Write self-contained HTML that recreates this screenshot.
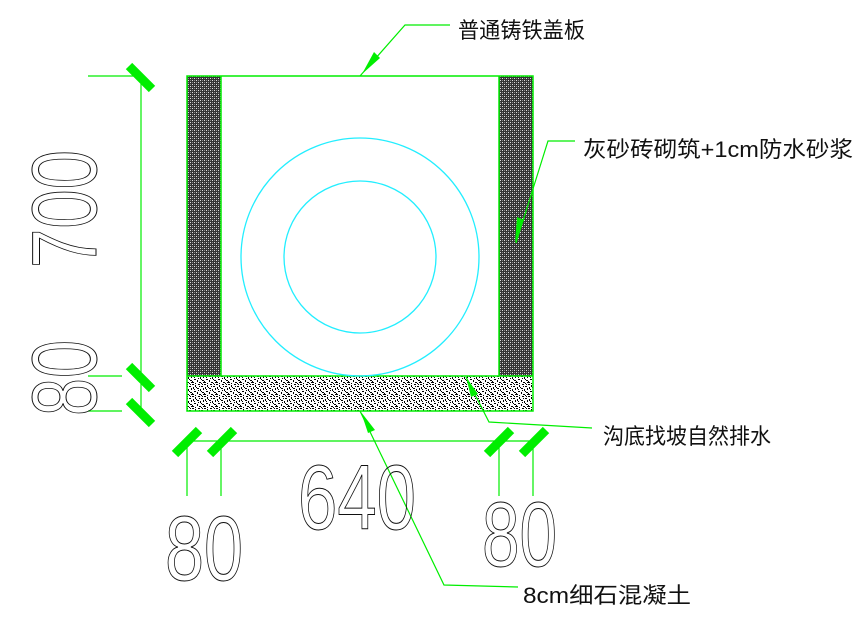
<!DOCTYPE html>
<html><head><meta charset="utf-8"><style>
html,body{margin:0;padding:0;background:#fff;}
svg{display:block;}
.cj{font-family:"Liberation Sans","Noto Sans CJK SC",sans-serif;font-size:22px;fill:#111;}
.dg{font-family:"Liberation Sans",sans-serif;fill:none;stroke:#111;stroke-width:1;}
</style></head><body>
<svg width="862" height="624" viewBox="0 0 862 624" xmlns="http://www.w3.org/2000/svg">
<defs>
<pattern id="brick" width="4" height="4" patternUnits="userSpaceOnUse">
<rect width="4" height="4" fill="#333"/>
<rect x="0" y="0" width="1" height="1" fill="#ddd"/>
<rect x="2" y="2" width="1" height="1" fill="#ddd"/>
<rect x="2" y="0" width="1" height="1" fill="#888"/>
<rect x="0" y="2" width="1" height="1" fill="#888"/>
</pattern>
<pattern id="conc" width="12" height="12" patternUnits="userSpaceOnUse">
<rect width="12" height="12" fill="#fff"/>
<rect x="0" y="0" width="2" height="1" fill="#000"/>
<rect x="3" y="1" width="1" height="2" fill="#000"/>
<rect x="6" y="0" width="2" height="1" fill="#000"/>
<rect x="9" y="2" width="2" height="1" fill="#000"/>
<rect x="1" y="3" width="1" height="2" fill="#000"/>
<rect x="5" y="4" width="2" height="1" fill="#000"/>
<rect x="8" y="5" width="1" height="2" fill="#000"/>
<rect x="11" y="4" width="1" height="2" fill="#000"/>
<rect x="2" y="7" width="2" height="1" fill="#000"/>
<rect x="0" y="9" width="1" height="2" fill="#000"/>
<rect x="5" y="8" width="1" height="2" fill="#000"/>
<rect x="7" y="10" width="2" height="1" fill="#000"/>
<rect x="10" y="8" width="2" height="1" fill="#000"/>
<rect x="3" y="11" width="1" height="1" fill="#000"/>
<rect x="9" y="11" width="1" height="1" fill="#000"/>
<rect x="6" y="6" width="1" height="1" fill="#000"/>
<rect x="4" y="3" width="1" height="1" fill="#000"/>
<rect x="10" y="0" width="1" height="1" fill="#000"/>
<rect x="2" y="5" width="1" height="1" fill="#000"/>
<rect x="9" y="7" width="1" height="1" fill="#000"/>
<rect x="11" y="10" width="1" height="1" fill="#000"/>
<rect x="1" y="10" width="1" height="1" fill="#000"/>
<rect x="7" y="2" width="1" height="1" fill="#000"/>
</pattern>
</defs>

<rect x="187" y="76" width="34" height="300" fill="url(#brick)"/>
<rect x="499" y="76" width="34" height="300" fill="url(#brick)"/>
<rect x="187" y="376" width="346" height="35" fill="url(#conc)"/>
<g stroke="#00ee00" stroke-width="1.5" fill="none">
<rect x="187" y="76" width="346" height="335"/>
<line x1="187" y1="376" x2="533" y2="376"/>
<line x1="221" y1="76" x2="221" y2="376"/>
<line x1="499" y1="76" x2="499" y2="376"/>
</g>
<circle cx="360" cy="257" r="119" fill="none" stroke="#22eeff" stroke-width="1.3"/>
<circle cx="360" cy="257" r="76" fill="none" stroke="#22eeff" stroke-width="1.3"/>

<g stroke="#00ee00" stroke-width="1.2">
<line x1="141" y1="76" x2="141" y2="412"/>
<line x1="88" y1="76" x2="141" y2="76"/>
<line x1="88" y1="376" x2="122" y2="376"/>
<line x1="88" y1="411" x2="122" y2="411"/>
<line x1="187" y1="441" x2="533" y2="441"/>
<line x1="187" y1="441" x2="187" y2="496"/>
<line x1="221" y1="441" x2="221" y2="496"/>
<line x1="499" y1="441" x2="499" y2="496"/>
<line x1="533" y1="441" x2="533" y2="496"/>
</g>
<g stroke="#00ee00" stroke-width="9" stroke-linecap="butt">
<line x1="129" y1="66" x2="152" y2="89"/>
<line x1="129" y1="366" x2="152" y2="389"/>
<line x1="129" y1="401" x2="152" y2="424"/>
<line x1="175" y1="454" x2="199" y2="430"/>
<line x1="210" y1="454" x2="234" y2="430"/>
<line x1="487" y1="454" x2="511" y2="430"/>
<line x1="522" y1="454" x2="546" y2="430"/>
</g>

<g stroke="#00ee00" stroke-width="1.2" fill="none">
<polyline points="360,76 405,25 450,25"/>
<polyline points="516,243 548,141 575,141"/>
<polyline points="466,377 489,422 592,428"/>
<polyline points="360,411 444,585 518,587"/>
</g>
<g fill="#00ee00">
<polygon points="362,74 374,52 380,58"/>
<polygon points="515,243 517,217 524,220"/>
<polygon points="466,377 478,394 471,397"/>
<polygon points="361,412 368,433 375,430"/>
</g>

<text class="cj" x="458" y="38" textLength="127" lengthAdjust="spacingAndGlyphs">普通铸铁盖板</text>
<text class="cj" x="583" y="157" textLength="270" lengthAdjust="spacingAndGlyphs">灰砂砖砌筑+1cm防水砂浆</text>
<text class="cj" x="603" y="444" textLength="168" lengthAdjust="spacingAndGlyphs">沟底找坡自然排水</text>
<text class="cj" x="523" y="603" textLength="168" lengthAdjust="spacingAndGlyphs">8cm细石混凝土</text>

<text class="dg" x="298" y="529" font-size="92" textLength="118" lengthAdjust="spacingAndGlyphs">640</text>
<text class="dg" x="165" y="580" font-size="92" textLength="78" lengthAdjust="spacingAndGlyphs">80</text>
<text class="dg" x="482" y="566" font-size="92" textLength="75" lengthAdjust="spacingAndGlyphs">80</text>
<text class="dg" transform="translate(96,268) rotate(-90)" font-size="92" textLength="118" lengthAdjust="spacingAndGlyphs">700</text>
<text class="dg" transform="translate(96,416) rotate(-90)" font-size="92" textLength="76" lengthAdjust="spacingAndGlyphs">80</text>
</svg>
</body></html>
